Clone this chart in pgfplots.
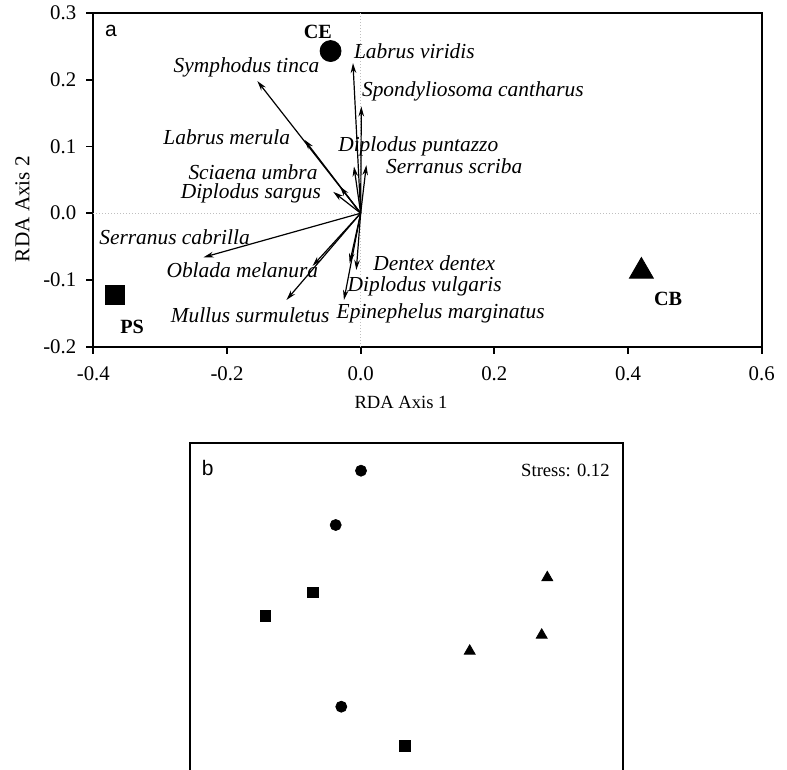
\documentclass[border=0pt]{standalone}
\usepackage{fontspec}
\setmainfont{Liberation Serif}
\newfontfamily\arialfont{Liberation Sans}
\usepackage{pgfplots}
\pgfplotsset{compat=1.18}
\usetikzlibrary{arrows.meta}
\begin{document}
\begin{tikzpicture}
% ---------------- panel a ----------------
\begin{axis}[
  at={(46.65pt,-6.5pt)}, anchor=north west,
  scale only axis, width=334.2pt, height=166.85pt,
  xmin=-0.4, xmax=0.6, ymin=-0.2, ymax=0.3,
  xtick={-0.4,-0.2,0,0.2,0.4,0.6},
  ytick={-0.2,-0.1,0,0.1,0.2,0.3},
  tick pos=left, tick align=outside, major tick length=3.5pt,
  axis line style={line width=0.9pt}, every tick/.style={black, line width=0.9pt},
  /pgf/number format/assume math mode=true,
  /pgf/number format/.cd, fixed, fixed zerofill, precision=1, /pgfplots/.cd,
  ticklabel style={font=\fontsize{10.4}{12}\selectfont},
  xticklabel style={yshift=-3pt},
  yticklabel style={xshift=-1.5pt},
  xlabel={RDA Axis 1}, ylabel={RDA Axis 2},
  every axis x label/.style={at={(axis description cs:0.4604,-0.1678)}, anchor=center, font=\fontsize{9.3}{11}\selectfont},
  every axis y label/.style={at={(axis description cs:-0.106,0.4126)}, rotate=90, anchor=center, font=\fontsize{10.6}{12}\selectfont},
  clip=false,
]
\addplot[gray!50, densely dotted, line width=0.5pt] coordinates {(-0.4,0) (0.6,0)};
\addplot[gray!50, densely dotted, line width=0.5pt] coordinates {(0,-0.2) (0,0.3)};
% species arrows
\pgfplotsset{arr/.style={black, line width=0.6pt, -{Stealth[length=5pt,width=2.8pt]}}}
\addplot[arr] coordinates {(0,0) (-0.1545,0.198)};  % Symphodus tinca
\addplot[arr] coordinates {(0,0) (-0.0115,0.225)};  % Labrus viridis
\addplot[arr] coordinates {(0,0) (0.001,0.160)};    % Spondyliosoma cantharus
\addplot[arr] coordinates {(0,0) (-0.084,0.110)};   % Labrus merula
\addplot[arr] coordinates {(0,0) (-0.010,0.070)};   % Diplodus puntazzo
\addplot[arr] coordinates {(0,0) (0.0085,0.072)};   % Serranus scriba
\addplot[arr] coordinates {(0,0) (-0.031,0.040)};   % Sciaena umbra
\addplot[arr] coordinates {(0,0) (-0.041,0.032)};   % Diplodus sargus
\addplot[arr] coordinates {(0,0) (-0.235,-0.066)};  % Serranus cabrilla
\addplot[arr] coordinates {(0,0) (-0.072,-0.079)};  % Oblada melanura
\addplot[arr] coordinates {(0,0) (-0.111,-0.130)};  % Mullus surmuletus
\addplot[arr] coordinates {(0,0) (-0.0065,-0.085)}; % Dentex dentex
\addplot[arr] coordinates {(0,0) (-0.0165,-0.075)}; % Diplodus vulgaris
\addplot[arr] coordinates {(0,0) (-0.025,-0.130)};  % Epinephelus marginatus
% sites
\addplot[only marks, mark=*, mark size=5.25pt, black] coordinates {(-0.045,0.243)};
\addplot[only marks, mark=square*, mark size=4.75pt, black] coordinates {(-0.367,-0.1225)};
\addplot[only marks, mark=triangle*, mark size=6.9pt, black] coordinates {(0.42,-0.087)};
% labels
\begin{scope}[every node/.style={font=\fontsize{10.7}{12}\selectfont\itshape, inner sep=0pt}]
\node[anchor=east] at (-0.0613,0.218) {Symphodus tinca};
\node[anchor=west] at (-0.0105,0.243) {Labrus viridis};
\node[anchor=west] at (0.0015,0.182) {Spondyliosoma cantharus};
\node[anchor=east] at (-0.105,0.114) {Labrus merula};
\node[anchor=west] at (-0.034,0.0998) {Diplodus puntazzo};
\node[anchor=west] at (0.0375,0.070) {Serranus scriba};
\node[anchor=east] at (-0.064,0.062) {Sciaena umbra};
\node[anchor=east] at (-0.0588,0.030) {Diplodus sargus};
\node[anchor=west] at (-0.3915,-0.036) {Serranus cabrilla};
\node[anchor=west] at (-0.291,-0.085) {Oblada melanura};
\node[anchor=west] at (-0.2847,-0.1525) {Mullus surmuletus};
\node[anchor=west] at (0.0184,-0.075) {Dentex dentex};
\node[anchor=west] at (-0.020,-0.110) {Diplodus vulgaris};
\node[anchor=west] at (-0.0364,-0.150) {Epinephelus marginatus};
\end{scope}
\begin{scope}[every node/.style={font=\fontsize{10.1}{12}\selectfont\bfseries, inner sep=0pt}]
\node at (-0.064,0.272) {CE};
\node at (-0.342,-0.170) {PS};
\node at (0.46,-0.129) {CB};
\end{scope}
\node[font=\arialfont\fontsize{10.5}{12}\selectfont, inner sep=0pt] at (-0.3735,0.2738) {a};
\end{axis}
% ---------------- panel b ----------------
\begin{axis}[
  at={(95pt,-221.65pt)}, anchor=north west,
  scale only axis, width=216.35pt, height=200pt,
  xmin=190, xmax=622.7, ymin=-843.3, ymax=-443.3,
  xtick=\empty, ytick=\empty,
  axis line style={line width=0.9pt},
  clip=false,
]
\addplot[only marks, mark=*, mark size=2.75pt, black] coordinates {(361,-470.7) (335.7,-525) (341.3,-706.7)};
\addplot[only marks, mark=square*, mark size=2.65pt, black] coordinates {(312.7,-592.3) (265.3,-615.7) (405,-745.7)};
\addplot[only marks, mark=triangle*, mark size=3.1pt, black] coordinates {(547.3,-577.5) (541.7,-635) (469.7,-651)};
\node[font=\arialfont\fontsize{10.5}{12}\selectfont, inner sep=0pt] at (207.7,-468) {b};
\node[font=\fontsize{9.3}{11}\selectfont, inner sep=0pt, anchor=east] at (610,-470) {Stress: 0.12};
\end{axis}
\pgfresetboundingbox
\path[use as bounding box] (0,0) rectangle (393.5pt,-385pt);
\end{tikzpicture}
\end{document}
